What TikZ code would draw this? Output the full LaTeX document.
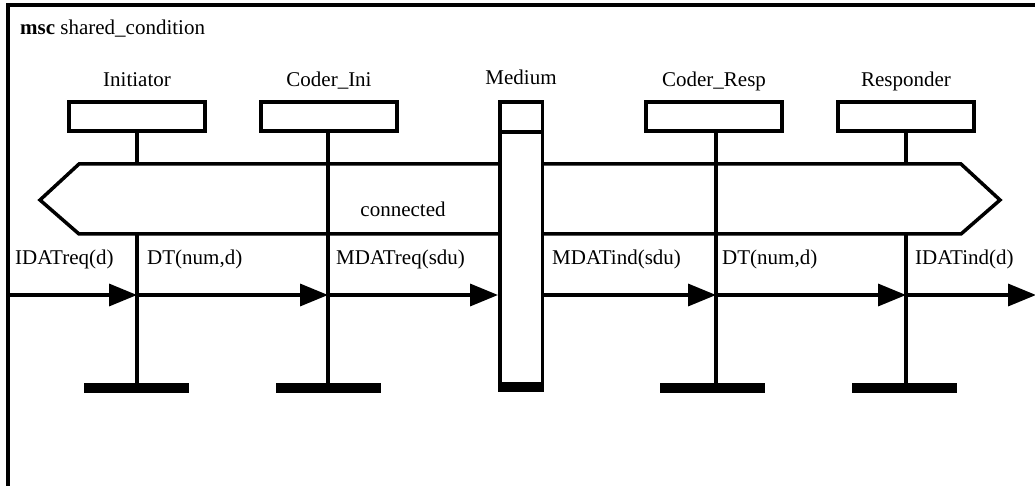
\documentclass[tikz,border=0pt]{standalone}
\usepackage{fontspec}
\setmainfont{Liberation Serif}
\usetikzlibrary{arrows.meta}
\begin{document}
\begin{tikzpicture}[x=1pt,y=-1pt,
  every node/.style={font=\fontsize{21}{25}\selectfont},
  thick line/.style={line width=3.5pt},
  headbox/.style={draw,line width=3.5pt,fill=white,minimum width=136pt,minimum height=29pt,inner sep=0pt},
  endbar/.style={fill=black,minimum height=10pt,minimum width=105pt,inner sep=0pt},
  lifeline/.style={line width=3.5pt},
  msg/.style={line width=3.5pt,-{Triangle[length=28pt,width=22pt]}},
  lbl/.style={anchor=base west,inner sep=0pt},
  hlbl/.style={anchor=base,inner sep=0pt}]
\clip (0,0) rectangle (1035,486);
% frame
\draw[thick line] (8,500) -- (8,5) -- (1050,5);
\node[lbl] (title) at (20,35) {\textbf{msc} shared\_condition};
% heads
\node[headbox] (ini)   at (137,116.5) {};
\node[headbox] (cini)  at (329,116.5) {};
\node[headbox] (cresp) at (714,116.5) {};
\node[headbox] (resp)  at (906,116.5) {};
\node[hlbl] (iniL)   at (137,87) {Initiator};
\node[hlbl] (ciniL)  at (329,87) {Coder\_Ini};
\node[hlbl] (medL)   at (521,85) {Medium};
\node[hlbl] (crespL) at (714,87) {Coder\_Resp};
\node[hlbl] (respL)  at (906,87) {Responder};
% end bars
\node[endbar] (iniE)   at (136,388) {};
\node[endbar] (ciniE)  at (328,388) {};
\node[endbar] (crespE) at (712,388) {};
\node[endbar] (respE)  at (904,388) {};
% lifelines
\draw[lifeline] (ini.south -| 137,0) -- (iniE.north -| 137,0);
\draw[lifeline] (resp.south -| 906,0) -- (respE.north -| 906,0);
% condition
\coordinate (c1) at (40,200);
\coordinate (c2) at (79,164);
\coordinate (c3) at (961,164);
\coordinate (c4) at (1000,200);
\coordinate (c5) at (961,234);
\coordinate (c6) at (79,234);
\draw[thick line,fill=white,line join=miter] (c1) -- (c2) -- (c3) -- (c4) -- (c5) -- (c6) -- cycle;
\node[hlbl] (cond) at (403,217) {connected};
\draw[lifeline] (cini.south -| 328,0) -- (ciniE.north -| 328,0);
\draw[lifeline] (cresp.south -| 716,0) -- (crespE.north -| 716,0);
% medium
\node[draw,line width=3.5pt,fill=white,minimum width=42.5pt,minimum height=288pt,inner sep=0pt] (med) at (521,246) {};
\coordinate (medH) at (521,132);
\draw[line width=3.5pt] (med.west |- medH) -- (med.east |- medH);
\node[fill=black,minimum width=46pt,minimum height=10pt,inner sep=0pt] (medE) at (521,387) {};
% messages
\coordinate (envL) at (8,295);
\coordinate (envR) at (1036,295);
\coordinate (m1) at (137,295);
\coordinate (m2) at (328,295);
\coordinate (m3) at (716,295);
\coordinate (m4) at (906,295);
\draw[msg] (envL) -- (m1);
\draw[msg] (m1) -- (m2);
\draw[msg] (m2) -- (med.west |- m2);
\draw[msg] (med.east |- m2) -- (m3);
\draw[msg] (m3) -- (m4);
\draw[msg] (m4) -- (envR);
\node[lbl] (l1) at (15,265) {IDATreq(d)};
\node[lbl] (l2) at (147,265) {DT(num,d)};
\node[lbl] (l3) at (336,265) {MDATreq(sdu)};
\node[lbl] (l4) at (552,265) {MDATind(sdu)};
\node[lbl] (l5) at (722,265) {DT(num,d)};
\node[lbl] (l6) at (915,265) {IDATind(d)};
\end{tikzpicture}
\end{document}
